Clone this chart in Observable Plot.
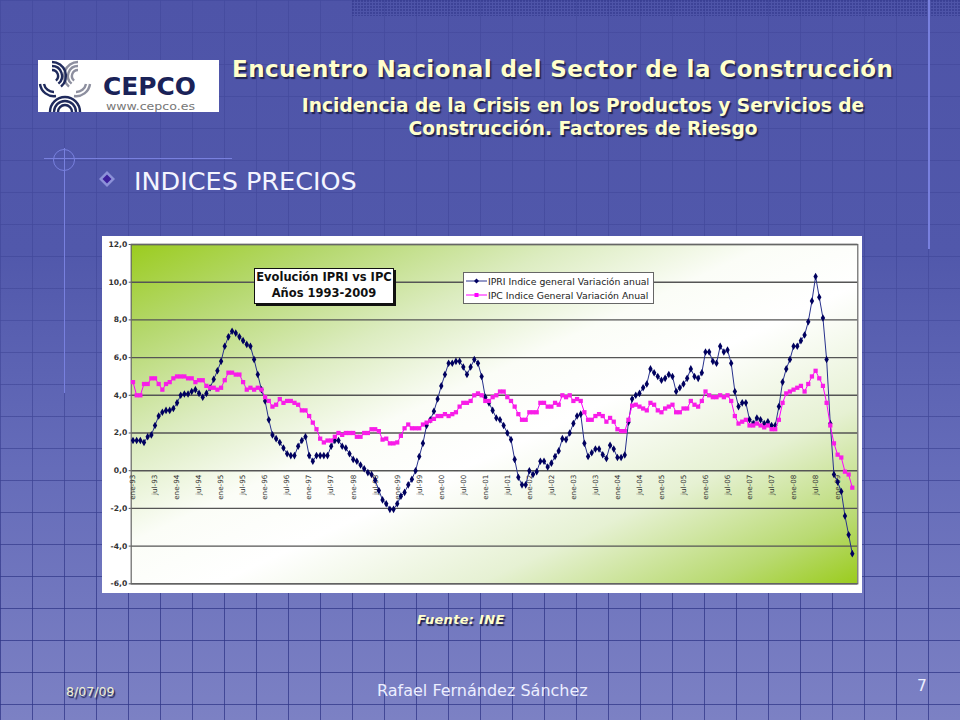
<!DOCTYPE html>
<html lang="es">
<head>
<meta charset="utf-8">
<title>Indices precios</title>
<script src="https://cdn.jsdelivr.net/npm/d3@7"></script>
<script src="https://cdn.jsdelivr.net/npm/@observablehq/plot@0.6"></script>
<style>
html,body{margin:0;padding:0;width:960px;height:720px;overflow:hidden;font-family:"DejaVu Sans",sans-serif;}
#slide{position:relative;width:960px;height:720px;overflow:hidden;
  background:linear-gradient(to bottom,#4e54a8 0%,#5158ab 35%,#636ab8 62%,#7c81c4 100%);}
.abs{position:absolute;}
#grid{left:0;top:0;width:960px;height:720px;
  background-image:
    linear-gradient(to right,rgba(44,50,132,.75) 1px,transparent 1px),
    linear-gradient(to bottom,rgba(44,50,132,.75) 1px,transparent 1px);
  background-size:32px 32px;background-position:0 0;
  -webkit-mask-image:linear-gradient(to bottom,rgba(0,0,0,.28) 0%,rgba(0,0,0,.4) 45%,rgba(0,0,0,.95) 85%);
  mask-image:linear-gradient(to bottom,rgba(0,0,0,.28) 0%,rgba(0,0,0,.4) 45%,rgba(0,0,0,.95) 85%);}
#dither{left:352px;top:0;width:608px;height:16px;
  background-image:radial-gradient(circle at 1px 1px,rgba(50,55,140,.6) 1px,transparent 1.1px);
  background-size:3px 3px;}
.title{color:#ffffcc;font-weight:bold;text-shadow:1.5px 1.5px 1px #20234f;white-space:nowrap;}
.deco{background:#7880de;}
#panel{left:102px;top:236px;width:760px;height:357px;background:#fff;}
#plotbg{left:130.7px;top:244px;width:726.6px;height:339.3px;
  background:linear-gradient(to bottom right,#9bcc1e 0%,#b5d86e 14%,#dcecc0 30%,#fbfdf7 44%,#fff 56%,#e6f1d3 74%,#b9da72 90%,#9bcc1e 100%);}
#chart{left:102px;top:236px;width:760px;height:357px;}
#chartTitle{left:254px;top:268px;width:138px;height:33px;background:#fff;border:1px solid #111;box-shadow:2px 2px 0 #111;
  font-weight:bold;font-size:11.5px;line-height:15.5px;text-align:center;color:#111;padding-top:1px;box-sizing:content-box;white-space:nowrap;}
#legend{left:463px;top:272px;width:189px;height:30px;background:#fff;border:1px solid #666;font-size:9.3px;color:#222;}
#legend div{position:absolute;left:24px;white-space:nowrap;}
#legend svg{position:absolute;left:2px;}
</style>
</head>
<body>
<div id="slide">
  <div id="grid" class="abs"></div>
  <div id="dither" class="abs"></div>
  <div class="abs deco" style="left:928px;top:0;width:1.5px;height:249px"></div>
  <div class="abs deco" style="left:64px;top:148px;width:1px;height:245px"></div>
  <div class="abs deco" style="left:44px;top:158px;width:188px;height:1px"></div>
  <div class="abs" style="left:53px;top:149px;width:20px;height:20px;border:1px solid #7880de;border-radius:50%"></div>

  <svg class="abs" style="left:38px;top:60px" width="181" height="52" viewBox="0 0 181 52" id="logo">
    <rect width="181" height="52" fill="#fff"/>
    <g fill="none" stroke-width="2.4">
      <g stroke="#8d8f9f">
        <path d="M40 10 A6 6 0 0 0 36.1 20.6"/>
        <path d="M40 6 A10 10 0 0 0 33.6 23.7"/>
        <path d="M40 2 A14 14 0 0 0 31 26.7"/>
        <path d="M48 24 A10 10 0 0 1 38 32"/>
        <path d="M52 24 A14 14 0 0 1 36 36"/>
      </g>
      <g stroke="#1f2a5c">
        <path d="M14 10 A6 6 0 0 1 17.9 20.6"/>
        <path d="M14 6 A10 10 0 0 1 20.4 23.7"/>
        <path d="M14 2 A14 14 0 0 1 23 26.7"/>
        <path d="M6 24 A10 10 0 0 0 16 32"/>
        <path d="M2 24 A14 14 0 0 0 18 36"/>
        <path d="M20 52 A7 7 0 0 1 34 52"/>
        <path d="M16 52 A11 11 0 0 1 38 52"/>
        <path d="M12 52 A15 15 0 0 1 42 52"/>
      </g>
    </g>
    <text x="65" y="34.5" font-family="DejaVu Sans" font-weight="bold" font-size="24.5" fill="#1a2258" textLength="93" lengthAdjust="spacingAndGlyphs">CEPCO</text>
    <text x="68" y="49.6" font-family="DejaVu Sans" font-size="10" fill="#777" textLength="89" lengthAdjust="spacingAndGlyphs">www.cepco.es</text>
  </svg>

  <div class="abs title" style="left:232px;top:56px;font-size:23px;letter-spacing:.44px">Encuentro Nacional del Sector de la Construcción</div>
  <div class="abs title" style="left:283px;top:94px;width:600px;text-align:center;font-size:18.6px;line-height:23px">Incidencia de la Crisis en los Productos y Servicios de<br>Construcción. Factores de Riesgo</div>

  <svg class="abs" style="left:97px;top:169px" width="20" height="20" viewBox="0 0 20 20">
    <path d="M10 2 L18 10 L10 18 L2 10 Z" fill="#8c91d8"/>
    <path d="M10 5.5 L14.5 10 L10 14.5 L5.5 10 Z" fill="#3c1f9c"/>
  </svg>
  <div class="abs" style="left:134px;top:166px;font-size:25.5px;color:#f4f5ff;white-space:nowrap">INDICES PRECIOS</div>

  <div id="panel" class="abs"></div>
  <div id="plotbg" class="abs"></div>
  <div id="chart" class="abs"></div>
  <div id="chartTitle" class="abs">Evolución IPRI vs IPC<br>Años 1993-2009</div>
  <div id="legend" class="abs">
    <svg style="top:4px" width="22" height="8"><line x1="0" x2="21" y1="4" y2="4" stroke="#2b3590"/><path d="M10.5 1.5 L13 4 L10.5 6.5 L8 4 Z" fill="#000060"/></svg>
    <div style="top:3px">IPRI Indice general Variación anual</div>
    <svg style="top:18px" width="22" height="8"><line x1="0" x2="21" y1="4" y2="4" stroke="#ff00ff"/><rect x="8.5" y="2" width="4" height="4" fill="#ff00ff"/></svg>
    <div style="top:17px">IPC Indice General Variación Anual</div>
  </div>

  <div class="abs title" style="left:417px;top:612px;font-size:13px;font-style:italic;letter-spacing:.3px">Fuente: INE</div>
  <div class="abs title" style="left:66px;top:684px;font-size:12.6px;font-weight:normal;color:#f0f0d0">8/07/09</div>
  <div class="abs" style="left:377px;top:681px;font-size:16px;color:#eceeff;white-space:nowrap">Rafael Fernández Sánchez</div>
  <div class="abs" style="left:917px;top:677px;font-size:15.5px;color:#eceeff">7</div>
</div>

<script>
// Variación anual, lectura del gráfico (ene-93 a may-09)
const meses = ["ene","feb","mar","abr","may","jun","jul","ago","sep","oct","nov","dic"];
const anios = ["93","94","95","96","97","98","99","00","01","02","03","04","05","06","07","08","09"];
const ipri = [
  1.6,1.6,1.6,1.5,1.8,1.9,2.4,2.9,3.1,3.2,3.2,3.3,
  3.6,4.0,4.07,4.07,4.2,4.3,4.1,3.9,4.1,4.4,4.85,5.3,
  5.8,6.6,7.1,7.4,7.3,7.1,6.9,6.7,6.6,5.9,5.1,4.3,
  3.7,2.7,1.9,1.7,1.5,1.2,0.9,0.8,0.8,1.3,1.6,1.8,
  0.8,0.5,0.8,0.8,0.8,0.8,1.3,1.6,1.6,1.3,1.2,0.9,
  0.6,0.5,0.3,0.1,-0.1,-0.2,-0.5,-1.05,-1.55,-1.75,-2.05,-2.05,
  -1.75,-1.35,-1.15,-0.75,-0.45,0,0.75,1.45,2.4,2.7,3.15,3.8,
  4.5,5.1,5.7,5.7,5.8,5.8,5.5,5.1,5.5,5.9,5.7,5.0,
  3.9,3.6,3.2,2.8,2.7,2.4,2.0,1.65,0.6,-0.35,-0.75,-0.75,
  0,-0.2,-0.05,0.5,0.5,0.2,0.4,0.75,1.05,1.7,1.65,2.0,
  2.5,2.9,3.0,1.45,0.75,0.95,1.15,1.15,0.85,0.65,1.35,1.15,
  0.7,0.7,0.83,2.57,3.8,4.0,4.1,4.4,4.6,5.4,5.2,5.0,
  4.8,4.9,5.1,5.0,4.2,4.4,4.6,4.9,5.4,5.0,4.9,5.2,
  6.3,6.3,5.8,5.7,6.6,6.3,6.4,5.7,4.2,3.4,3.6,3.6,
  2.7,2.5,2.8,2.7,2.5,2.6,2.4,2.4,3.4,4.7,5.4,5.9,
  6.6,6.6,6.9,7.2,7.9,9.0,10.3,9.2,8.1,5.9,2.5,-0.2,
  -0.6,-1.1,-2.4,-3.4,-4.4
];
const ipc = [
  4.7,4.0,4.0,4.6,4.6,4.9,4.9,4.6,4.3,4.6,4.7,4.9,
  5.0,5.0,5.0,4.9,4.9,4.7,4.8,4.8,4.5,4.4,4.4,4.3,
  4.4,4.8,5.2,5.2,5.1,5.1,4.7,4.3,4.4,4.3,4.4,4.3,
  3.9,3.7,3.4,3.5,3.8,3.6,3.7,3.7,3.6,3.5,3.2,3.2,
  2.9,2.55,2.2,1.7,1.5,1.6,1.6,1.8,2.0,1.9,2.0,2.0,
  2.0,1.8,1.8,2.0,2.0,2.2,2.2,2.1,1.65,1.7,1.45,1.45,
  1.5,1.85,2.25,2.45,2.25,2.25,2.25,2.45,2.55,2.65,2.75,2.9,
  2.9,3.0,2.9,3.0,3.1,3.4,3.6,3.6,3.7,4.0,4.1,4.0,
  3.7,3.7,3.9,4.0,4.2,4.2,3.9,3.7,3.4,3.0,2.7,2.7,
  3.1,3.1,3.1,3.6,3.6,3.4,3.4,3.6,3.5,4.0,3.9,4.0,
  3.7,3.8,3.7,3.1,2.7,2.7,2.9,3.0,2.9,2.6,2.8,2.6,
  2.2,2.1,2.1,2.7,3.45,3.5,3.4,3.3,3.2,3.6,3.5,3.2,
  3.1,3.3,3.4,3.5,3.1,3.1,3.3,3.3,3.7,3.5,3.4,3.7,
  4.2,4.0,3.9,3.9,4.0,3.9,4.0,3.7,2.9,2.5,2.6,2.7,
  2.4,2.4,2.5,2.4,2.3,2.4,2.2,2.2,2.7,3.6,4.1,4.2,
  4.3,4.4,4.5,4.2,4.6,5.0,5.3,4.9,4.5,3.6,2.4,1.45,
  0.85,0.7,-0.05,-0.2,-0.9
];
const yTicks = [-6,-4,-2,0,2,4,6,8,10,12];

const periodos = anios.flatMap(a => meses.map(m => `${m}-${a}`)).slice(0, ipri.length);
const etiquetas = periodos.filter((p, i) => i % 6 === 0);
const serieIpri = periodos.map((p, i) => ({periodo: p, valor: ipri[i]}));
const serieIpc = periodos.map((p, i) => ({periodo: p, valor: ipc[i]}));
const coma = d => d.toFixed(1).replace(".", ",");

const chart = Plot.plot({
  width: 760,
  height: 357,
  marginLeft: 28.7,
  marginRight: 4.7,
  marginTop: 8,
  marginBottom: 9.7,
  style: {background: "transparent", fontFamily: "DejaVu Sans", display: "block"},
  x: {type: "point", domain: periodos, padding: 0, range: [30.5, 749.8], axis: null},
  y: {domain: [-6, 12], axis: null},
  marks: [
    Plot.ruleY(yTicks, {stroke: "#555", strokeWidth: 1.4}),
    Plot.frame({stroke: "#666", strokeWidth: 1.2}),
    Plot.axisY({ticks: yTicks, tickFormat: coma, tickSize: 2, tickPadding: 2, stroke: "#555",
      fill: "#333", fontSize: 7.6, fontWeight: 600, label: null}),
    Plot.text(etiquetas, {x: d => d, y: () => 0, text: d => d, rotate: -90, textAnchor: "end",
      dy: 4, fill: "#333", fontSize: 7.2}),
    Plot.line(serieIpri, {x: "periodo", y: "valor", stroke: "#27318c", strokeWidth: 1}),
    Plot.dot(serieIpri, {x: "periodo", y: "valor", symbol: "diamond", r: 2.3, fill: "#00005e", stroke: "none"}),
    Plot.line(serieIpc, {x: "periodo", y: "valor", stroke: "#ff00ff", strokeWidth: 1}),
    Plot.dot(serieIpc, {x: "periodo", y: "valor", symbol: "square", r: 2.4, fill: "#f81de8", stroke: "none"})
  ]
});
document.getElementById("chart").appendChild(chart);
</script>
</body>
</html>
